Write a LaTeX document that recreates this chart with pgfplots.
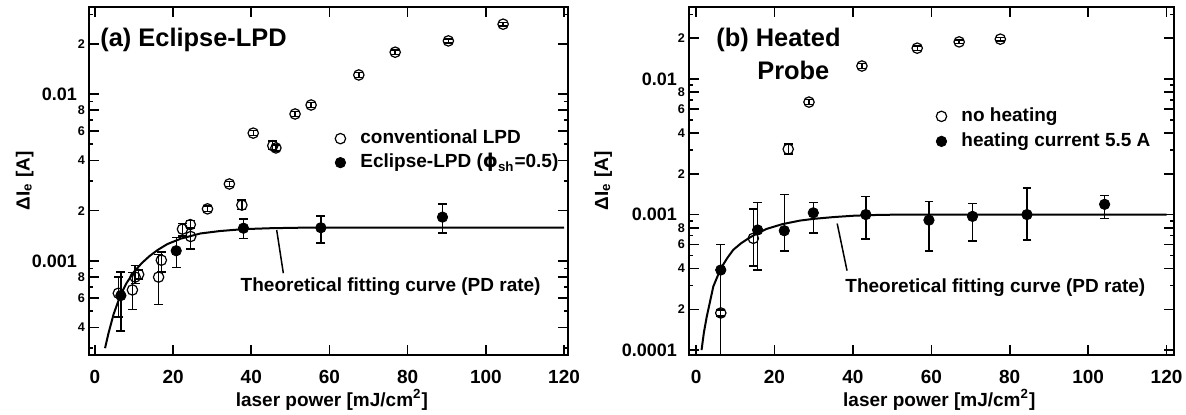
\documentclass[border=0pt]{standalone}
\usepackage{pgfplots}
\pgfplotsset{compat=1.18}
\usepackage{pgfplotstable}
\usepackage{fontspec}
\setmainfont{Liberation Sans}
\newfontfamily\dejavu{DejaVu Sans}

% (a) conventional LPD (open)
\pgfplotstableread{
x y ep em
6.0 0.00064 0.00016 0.00018
9.6 0.00067 0.00018 0.00016
10.3 0.00080 0.00014 0.00007
11.2 0.00083 0.00005 0.00005
16.3 0.00080 0.00029 0.00025
17.0 0.00101 0.00012 0.00015
22.4 0.00155 0.00012 0.00014
24.4 0.00165 0.00009 0.00009
24.5 0.00140 0.00018 0.00022
28.8 0.00205 0.00008 0.00008
34.4 0.00289 0.00010 0.00010
37.6 0.00216 0.00016 0.00013
40.5 0.00583 0.00020 0.00020
45.5 0.00490 0.00033 0.00025
46.3 0.00475 0.00020 0.00020
51.2 0.00759 0.00025 0.00025
55.3 0.00859 0.00030 0.00030
67.5 0.01300 0.00040 0.00040
76.8 0.01780 0.00050 0.00050
90.4 0.02080 0.00060 0.00060
104.4 0.02620 0.00070 0.00070
}\convA
% (a) Eclipse-LPD (filled)
\pgfplotstableread{
x y ep em
6.65 0.00062 0.00024 0.00024
20.8 0.00115 0.00023 0.00024
38.0 0.00157 0.00021 0.00021
57.8 0.00158 0.00028 0.00030
88.9 0.00183 0.00036 0.00036
}\eclA
% (a) fitting curve
\pgfplotstableread{
x y
2.6 0.00030
3.5 0.00037
4.8 0.00048
6.5 0.00062
8 0.00073
10 0.00086
12 0.00097
14 0.00107
16 0.00116
18.5 0.00126
22 0.00136
27 0.00146
32 0.00151
38 0.00155
45 0.00157
52 0.00158
120 0.00158
}\fitA
% (b) no heating (open)
\pgfplotstableread{
x y ep em
6.3 0.000188 0.000010 0.000010
14.6 0.000668 0.00043 0.00025
23.5 0.00304 0.00028 0.00025
28.8 0.00676 0.00030 0.00030
42.3 0.01248 0.00050 0.00050
56.4 0.01690 0.00060 0.00060
67.1 0.01880 0.00060 0.00060
77.6 0.01970 0.00060 0.00060
}\openB
% (b) heating current 5.5 A (filled)
\pgfplotstableread{
x y ep em
6.3 0.00039 0.00021 0.00030
15.7 0.00077 0.00046 0.00038
22.5 0.00076 0.00065 0.00022
29.9 0.00103 0.00020 0.00030
43.3 0.00100 0.00036 0.00034
59.4 0.00091 0.00034 0.00037
70.5 0.00097 0.00024 0.00033
84.4 0.00100 0.00057 0.00035
104.2 0.00119 0.00019 0.00025
}\heatB
% (b) fitting curve
\pgfplotstableread{
x y
1.4 0.000100
2.0 0.000135
2.7 0.000175
4.4 0.000295
6.3 0.000400
8 0.000480
9.5 0.000550
11.5 0.000615
13.8 0.000680
16 0.000735
18 0.000784
22 0.000850
26.5 0.000903
30 0.000930
35 0.000958
40 0.000980
45 0.000992
52 0.001000
120 0.001000
}\fitB

\begin{document}
\begin{tikzpicture}
\useasboundingbox (0,0) rectangle (593pt,207pt);
% ---------------- (a) ----------------
\begin{axis}[at={(44.5pt,29.5pt)}, anchor=south west, scale only axis,
  width=239.5pt, height=174pt,
  ymode=log,
  xmin=-1.5, xmax=121, ymin=2.73e-4, ymax=0.0332,
  axis line style={line width=0.9pt},
  tick align=inside,
  major tick length=5pt, minor tick length=2pt,
  every tick/.style={black, line width=0.8pt},
  xtick={0,20,40,60,80,100,120}, xticklabels={0,20,40,60,80,100,120},
  xticklabel style={font=\fontsize{9.5}{10}\selectfont\bfseries, yshift=-4pt},
  yticklabel style={font=\fontsize{9}{10}\selectfont\bfseries, xshift=-2.5pt},
  ytick={0.001,0.01}, yticklabels={0.001,0.01},
  extra y ticks={0.0004,0.0006,0.0008,0.002,0.004,0.006,0.008,0.02},
  extra y tick labels={4,6,8,2,4,6,8,2},
  extra y tick style={yticklabel style={font=\fontsize{6.3}{7}\selectfont\bfseries, xshift=4pt}},
  minor ytick={0.0003,0.0005,0.0007,0.0009,0.003,0.005,0.007,0.009,0.03},
  xlabel={laser power [mJ/cm\textsuperscript{2}]},
  ylabel={ΔI\textsubscript{e} [A]},
  label style={font=\fontsize{9.5}{11}\selectfont\bfseries},
  xlabel style={at={(axis description cs:0.507,-0.129)}, anchor=center},
  ylabel style={at={(axis description cs:-0.134,0.5)}, anchor=center},
  legend image code/.code={\draw[#1] plot coordinates {(3pt,0pt)}; \path[draw=none,fill=none] (0pt,0pt) -- (12pt,0pt);},
  legend style={at={(0.499,0.666)}, draw=none, fill=none, anchor=north west,
    font=\fontsize{9.5}{11}\selectfont\bfseries, row sep=1pt,
    nodes={inner sep=1pt, text height=7pt, text depth=2pt}, cells={anchor=west}},
]
\addplot[black, line width=1pt, no marks, forget plot] table[x=x,y=y] {\fitA};
\addplot[only marks, mark=o, mark size=2.6pt, black, mark options={line width=0.6pt},
   error bars/y dir=both, error bars/y explicit,
   error bars/error bar style={line width=0.7pt, black},
   error bars/error mark options={rotate=90, mark size=2.2pt, line width=0.7pt, black}]
   table[x=x,y=y,y error plus=ep,y error minus=em] {\convA};
\addlegendentry{conventional LPD}
\addplot[only marks, mark=*, mark size=2.6pt, black, mark options={fill=black},
   error bars/y dir=both, error bars/y explicit,
   error bars/error bar style={line width=0.7pt, black},
   error bars/error mark options={rotate=90, mark size=2.2pt, line width=0.7pt, black}]
   table[x=x,y=y,y error plus=ep,y error minus=em] {\eclA};
\addlegendentry{Eclipse-LPD ({\dejavu\bfseries ϕ}\textsubscript{sh}=0.5)}
\draw[line width=0.75pt] (axis cs:46.5,0.00153) -- (axis cs:48.2,0.000844);
\node[anchor=west, inner sep=0pt, font=\fontsize{9.5}{11}\selectfont\bfseries] at (axis cs:37.2,0.0007) {Theoretical fitting curve (PD rate)};
\node[anchor=west, inner sep=0pt, font=\fontsize{12.7}{14}\selectfont\bfseries] at (rel axis cs:0.023,0.905) {(a) Eclipse-LPD};
\end{axis}
% ---------------- (b) ----------------
\begin{axis}[at={(344.5pt,29.5pt)}, anchor=south west, scale only axis,
  width=242.5pt, height=174pt,
  ymode=log,
  xmin=-1.8, xmax=121.9, ymin=9.2e-5, ymax=0.034,
  axis line style={line width=0.9pt},
  tick align=inside,
  major tick length=5pt, minor tick length=2pt,
  every tick/.style={black, line width=0.8pt},
  xtick={0,20,40,60,80,100,120}, xticklabels={0,20,40,60,80,100,120},
  xticklabel style={font=\fontsize{9.5}{10}\selectfont\bfseries, yshift=-4pt},
  yticklabel style={font=\fontsize{9}{10}\selectfont\bfseries, xshift=-2.5pt},
  ytick={0.0001,0.001,0.01}, yticklabels={0.0001,0.001,0.01},
  extra y ticks={0.0002,0.0004,0.0006,0.0008,0.002,0.004,0.006,0.008,0.02},
  extra y tick labels={2,4,6,8,2,4,6,8,2},
  extra y tick style={yticklabel style={font=\fontsize{6.3}{7}\selectfont\bfseries, xshift=4pt}},
  minor ytick={0.0003,0.0005,0.0007,0.0009,0.003,0.005,0.007,0.009,0.03},
  xlabel={laser power [mJ/cm\textsuperscript{2}]},
  ylabel={ΔI\textsubscript{e} [A]},
  label style={font=\fontsize{9.5}{11}\selectfont\bfseries},
  xlabel style={at={(axis description cs:0.516,-0.129)}, anchor=center},
  ylabel style={at={(axis description cs:-0.177,0.5)}, anchor=center},
  legend image code/.code={\draw[#1] plot coordinates {(3pt,0pt)}; \path[draw=none,fill=none] (0pt,0pt) -- (12pt,0pt);},
  legend style={at={(0.495,0.730)}, draw=none, fill=none, anchor=north west,
    font=\fontsize{9.5}{11}\selectfont\bfseries, row sep=1.5pt,
    nodes={inner sep=1pt, text height=7pt, text depth=2pt}, cells={anchor=west}},
]
\addplot[black, line width=1pt, no marks, forget plot] table[x=x,y=y] {\fitB};
\addplot[only marks, mark=o, mark size=2.6pt, black, mark options={line width=0.6pt},
   error bars/y dir=both, error bars/y explicit,
   error bars/error bar style={line width=0.7pt, black},
   error bars/error mark options={rotate=90, mark size=2.2pt, line width=0.7pt, black}]
   table[x=x,y=y,y error plus=ep,y error minus=em] {\openB};
\addlegendentry{no heating}
\addplot[only marks, mark=*, mark size=2.6pt, black, mark options={fill=black},
   error bars/y dir=both, error bars/y explicit,
   error bars/error bar style={line width=0.7pt, black},
   error bars/error mark options={rotate=90, mark size=2.2pt, line width=0.7pt, black}]
   table[x=x,y=y,y error plus=ep,y error minus=em] {\heatB};
\addlegendentry{heating current 5.5 A}
\draw[line width=0.75pt] (axis cs:36.0,0.000858) -- (axis cs:38.5,0.000386);
\node[anchor=west, inner sep=0pt, font=\fontsize{9.5}{11}\selectfont\bfseries] at (axis cs:38.0,0.000289) {Theoretical fitting curve (PD rate)};
\node[anchor=west, inner sep=0pt, font=\fontsize{12.7}{14}\selectfont\bfseries] at (rel axis cs:0.0557,0.905) {(b) Heated};
\node[anchor=west, inner sep=0pt, font=\fontsize{12.7}{14}\selectfont\bfseries] at (rel axis cs:0.140,0.819) {Probe};
\end{axis}
\end{tikzpicture}
\end{document}
